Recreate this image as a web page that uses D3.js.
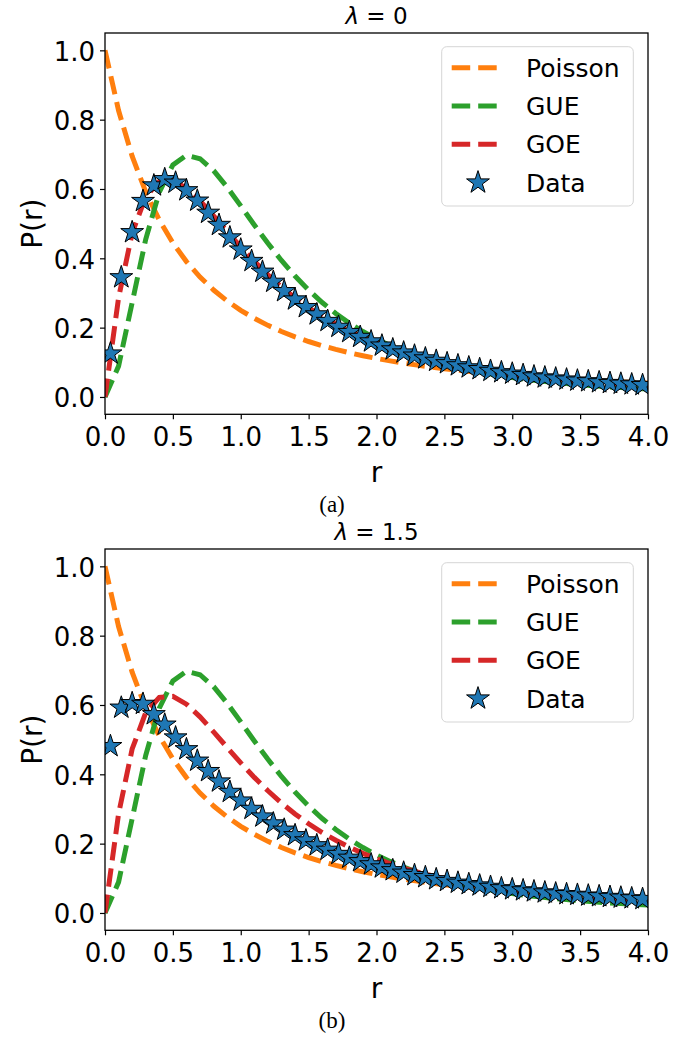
<!DOCTYPE html>
<html>
<head>
<meta charset="utf-8">
<script src="https://cdn.jsdelivr.net/npm/d3@7"></script>
<style>
  body { margin: 0; background: #fff; }
  svg { display: block; }
  text { font-family: "DejaVu Sans", sans-serif; fill: #000; }
</style>
</head>
<body>
<svg id="chart" width="695" height="1038"></svg>
<script>
// theory curves sampled at r = 0.0 ... 4.0
const rGrid = [0.0, 0.1, 0.2, 0.3, 0.4, 0.5, 0.6, 0.7, 0.8, 0.9, 1.0, 1.1, 1.2, 1.3, 1.4, 1.5, 1.6, 1.7, 1.8, 1.9,
    2.0, 2.1, 2.2, 2.3, 2.4, 2.5, 2.6, 2.7, 2.8, 2.9, 3.0, 3.1, 3.2, 3.3, 3.4, 3.5, 3.6, 3.7, 3.8, 3.9, 4.0];
const poisson = [1.0000, 0.8264, 0.6944, 0.5917, 0.5102, 0.4444, 0.3906, 0.3460, 0.3086, 0.2770, 0.2500, 0.2268,
    0.2066, 0.1890, 0.1736, 0.1600, 0.1479, 0.1372, 0.1276, 0.1189, 0.1111, 0.1041, 0.0977, 0.0918, 0.0865, 0.0816,
    0.0772, 0.0730, 0.0693, 0.0657, 0.0625, 0.0595, 0.0567, 0.0541, 0.0517, 0.0494, 0.0473, 0.0453, 0.0434, 0.0416, 0.0400];
const gue = [0.0000, 0.0890, 0.2720, 0.4549, 0.5912, 0.6696, 0.6972, 0.6873, 0.6531, 0.6053, 0.5513, 0.4963,
    0.4432, 0.3938, 0.3488, 0.3084, 0.2725, 0.2409, 0.2131, 0.1887, 0.1674, 0.1487, 0.1324, 0.1181, 0.1056, 0.0946,
    0.0849, 0.0764, 0.0689, 0.0622, 0.0563, 0.0510, 0.0464, 0.0422, 0.0385, 0.0352, 0.0322, 0.0295, 0.0271, 0.0249, 0.0230];
const goe = [0.0000, 0.2860, 0.4731, 0.5778, 0.6218, 0.6248, 0.6024, 0.5659, 0.5226, 0.4774, 0.4330, 0.3911,
    0.3525, 0.3173, 0.2857, 0.2574, 0.2321, 0.2097, 0.1897, 0.1720, 0.1562, 0.1422, 0.1296, 0.1185, 0.1084, 0.0995,
    0.0914, 0.0842, 0.0777, 0.0718, 0.0665, 0.0616, 0.0572, 0.0533, 0.0496, 0.0463, 0.0433, 0.0405, 0.0379, 0.0356, 0.0334];

// histogram data (bin centres)
const rData = [0.04, 0.12, 0.20, 0.28, 0.36, 0.44, 0.52, 0.60, 0.68, 0.76, 0.84, 0.92, 1.00, 1.08, 1.16, 1.24,
    1.32, 1.40, 1.48, 1.56, 1.64, 1.72, 1.80, 1.88, 1.96, 2.04, 2.12, 2.20, 2.28, 2.36, 2.44, 2.52, 2.60, 2.68,
    2.76, 2.84, 2.92, 3.00, 3.08, 3.16, 3.24, 3.32, 3.40, 3.48, 3.56, 3.64, 3.72, 3.80, 3.88, 3.96];
const dataA = [0.125, 0.345, 0.475, 0.565, 0.610, 0.628, 0.618, 0.596, 0.566, 0.531, 0.496, 0.460, 0.425, 0.392,
    0.361, 0.332, 0.305, 0.281, 0.259, 0.238, 0.219, 0.202, 0.187, 0.173, 0.160, 0.148, 0.137, 0.128, 0.119, 0.111,
    0.104, 0.097, 0.091, 0.085, 0.080, 0.075, 0.071, 0.067, 0.063, 0.059, 0.056, 0.053, 0.050, 0.047, 0.045, 0.042,
    0.040, 0.038, 0.036, 0.034];
const dataB = [0.481, 0.592, 0.605, 0.603, 0.573, 0.543, 0.506, 0.472, 0.439, 0.409, 0.379, 0.349, 0.324, 0.300,
    0.278, 0.258, 0.240, 0.224, 0.209, 0.195, 0.182, 0.170, 0.159, 0.149, 0.140, 0.131, 0.123, 0.116, 0.109, 0.103,
    0.097, 0.092, 0.087, 0.083, 0.079, 0.075, 0.071, 0.068, 0.065, 0.062, 0.059, 0.056, 0.054, 0.052, 0.050, 0.048,
    0.046, 0.044, 0.042, 0.040];

const lambdas = ["0", "1.5"];
const captions = ["(a)", "(b)"];
const seriesNames = ["Poisson", "GUE", "GOE", "Data"];
const xTicks = [0, 0.5, 1, 1.5, 2, 2.5, 3, 3.5, 4];
const yTicks = [0, 0.2, 0.4, 0.6, 0.8, 1.0];

const colors = { Poisson: "#ff7f0e", GUE: "#2ca02c", GOE: "#d62728", Data: "#1f77b4" };

const svg = d3.select("#chart");
const left = 105, right = 648, plotH = 381.3, panelStep = 516, firstTop = 33;
const dash = "18.5,8";

function starPath(R) {
    const pts = [];
    for (let i = 0; i < 10; i++) {
        const a = -Math.PI / 2 + i * Math.PI / 5;
        const rr = i % 2 ? R * 0.381966 : R;
        pts.push([rr * Math.cos(a), rr * Math.sin(a)]);
    }
    return "M" + pts.map(p => p[0].toFixed(2) + "," + p[1].toFixed(2)).join("L") + "Z";
}
const star = starPath(12);

const x = d3.scaleLinear().domain([0, 4]).range([left, right]);

[dataA, dataB].forEach((data, pi) => {
    const top = firstTop + pi * panelStep;
    const bottom = top + plotH;
    const y = d3.scaleLinear().domain([-0.05, 1.05]).range([bottom, top]);
    const g = svg.append("g");

    const clipId = "clip" + pi;
    g.append("clipPath").attr("id", clipId)
        .append("rect").attr("x", left).attr("y", top).attr("width", right - left).attr("height", plotH);

    const plot = g.append("g").attr("clip-path", "url(#" + clipId + ")");
    const line = d3.line().x((d, i) => x(rGrid[i])).y(d => y(d));

    [["Poisson", poisson], ["GUE", gue], ["GOE", goe]].forEach(([name, vals]) => {
        plot.append("path")
            .attr("d", line(vals))
            .attr("fill", "none")
            .attr("stroke", colors[name])
            .attr("stroke-width", 5)
            .attr("stroke-dasharray", dash);
    });

    plot.selectAll("path.star").data(data).enter().append("path")
        .attr("class", "star")
        .attr("d", star)
        .attr("transform", (d, i) => "translate(" + x(rData[i]) + "," + y(d) + ")")
        .attr("fill", colors.Data)
        .attr("stroke", "#000")
        .attr("stroke-width", 1);

    // axes
    const xAxis = g.append("g").attr("transform", "translate(0," + bottom + ")")
        .call(d3.axisBottom(x).tickValues(xTicks).tickFormat(d3.format(".1f")).tickSize(5).tickPadding(8.3));
    const yAxis = g.append("g").attr("transform", "translate(" + left + ",0)")
        .call(d3.axisLeft(y).tickValues(yTicks).tickFormat(d3.format(".1f")).tickSize(5).tickPadding(5));
    [xAxis, yAxis].forEach(a => {
        a.select(".domain").remove();
        a.selectAll("line").attr("stroke", "#000").attr("stroke-width", 1.2);
        a.selectAll("text").attr("font-size", 26).attr("font-family", "DejaVu Sans");
    });
    yAxis.selectAll("text").attr("dy", "0.38em");

    g.append("rect")
        .attr("x", left).attr("y", top).attr("width", right - left).attr("height", plotH)
        .attr("fill", "none").attr("stroke", "#000").attr("stroke-width", 1.3);

    // title
    const t = g.append("text")
        .attr("x", (left + right) / 2).attr("y", top - 9)
        .attr("text-anchor", "middle").attr("font-size", 23);
    t.append("tspan").attr("font-style", "italic").text("λ");
    t.append("tspan").text(" = " + lambdas[pi]);

    // axis labels
    g.append("text")
        .attr("x", (left + right) / 2).attr("y", bottom + 67.5)
        .attr("text-anchor", "middle").attr("font-size", 28).text("r");
    g.append("text")
        .attr("transform", "translate(42," + (top + plotH / 2) + ") rotate(-90)")
        .attr("text-anchor", "middle").attr("font-size", 28).text("P(r)");

    // caption
    g.append("text")
        .attr("x", 332).attr("y", bottom + 98)
        .attr("text-anchor", "middle")
        .style("font-family", "'Liberation Serif', serif")
        .attr("font-size", 23).text(captions[pi]);

    // legend
    const lg = g.append("g").attr("transform", "translate(441.7," + (top + 13.7) + ")");
    lg.append("rect")
        .attr("width", 191.6).attr("height", 159.3).attr("rx", 5)
        .attr("fill", "#fff").attr("fill-opacity", 0.8)
        .attr("stroke", "#d5d5d5").attr("stroke-width", 1);
    seriesNames.forEach((name, i) => {
        const cy = 21 + i * 38.3;
        if (name === "Data") {
            lg.append("path").attr("d", star)
                .attr("transform", "translate(36.3," + cy + ")")
                .attr("fill", colors.Data).attr("stroke", "#000").attr("stroke-width", 1);
        } else {
            lg.append("line")
                .attr("x1", 10).attr("x2", 56).attr("y1", cy).attr("y2", cy)
                .attr("stroke", colors[name]).attr("stroke-width", 5)
                .attr("stroke-dasharray", dash);
        }
        lg.append("text")
            .attr("x", 84.3).attr("y", cy).attr("dy", "0.36em")
            .attr("font-size", 25).text(name);
    });
});
</script>
</body>
</html>
